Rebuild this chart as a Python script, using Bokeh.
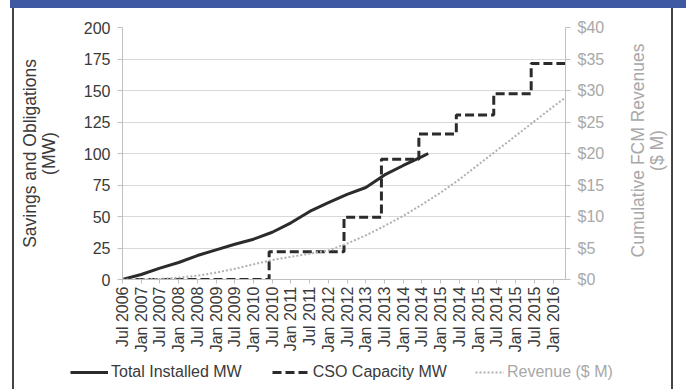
import math
from bokeh.plotting import figure
from bokeh.layouts import column, row
from bokeh.models import (Range1d, LinearAxis, FixedTicker, Legend, LegendItem,
                          PrintfTickFormatter)
from bokeh.core.properties import value
from bokeh.embed import file_html
from bokeh.resources import INLINE

# ---- data (months counted from Jul 2006) ----
tick_labels = ["Jul 2006", "Jan 2007", "Jul 2007", "Jan 2008", "Jul 2008", "Jan 2009",
               "Jul 2009", "Jan 2010", "Jul 2010", "Jan 2011", "Jul 2011", "Jan 2012",
               "Jul 2012", "Jan 2013", "Jul 2013", "Jan 2014", "Jul 2014", "Jan 2015",
               "Jul 2014", "Jan 2015", "Jul 2014", "Jan 2015", "Jul 2015", "Jan 2016"]

installed_months = [0, 6, 12, 18, 24, 30, 36, 42, 48, 54, 60, 66, 72, 78, 84, 90, 96, 98]
installed_mw = [0, 4, 9, 13.5, 19, 23.5, 28, 32, 37.5, 45, 54, 61, 67.5, 73, 83, 90.5, 97.5, 100]

cso_months = [0, 47, 71, 83, 95, 107, 119, 131, 142]
cso_mw = [0, 22, 49.5, 95.5, 115.5, 130.5, 147.5, 171.5, 171.5]

rev_months = [0, 6, 12, 18, 24, 30, 36, 42, 48, 54, 60, 66, 72, 78, 84, 90, 96,
              102, 108, 114, 120, 126, 132, 138, 142]
rev_musd = [0, 0, 0.1, 0.3, 0.6, 1.1, 1.7, 2.4, 3.1, 3.6, 4.1, 4.6, 5.7, 7.0, 8.5, 10.1, 11.9,
            13.8, 15.9, 18.2, 20.5, 22.8, 25.1, 27.4, 28.9]

left_ticks = [0, 25, 50, 75, 100, 125, 150, 175, 200]
right_ticks = [0, 5, 10, 15, 20, 25, 30, 35, 40]

left_title = "Savings and Obligations\n(MW)"
right_title = "Cumulative FCM Revenues\n($ M)"
series_names = ["Total Installed MW", "CSO Capacity MW", "Revenue ($ M)"]

FONT = "Liberation Sans"
DARK = "#3a3a3a"
LIGHT = "#a8a8a8"
LINE = "#2b2b2b"
REV = "#b0b0b0"
TICK_FS = "16px"
TITLE_FS = "17.5px"

# ---------------- main chart ----------------
p = figure(width=620, height=358, output_backend="svg", toolbar_location=None,
           x_range=Range1d(0, 142), y_range=Range1d(0, 200),
           min_border_left=122, min_border_right=55, min_border_top=27,
           min_border_bottom=79)
p.frame_align = False
p.outline_line_color = None
p.background_fill_color = "white"
p.border_fill_alpha = 0
p.xgrid.visible = False
p.ygrid.grid_line_color = "#d9d9d9"
p.ygrid.grid_line_width = 1

p.extra_y_ranges = {"rev": Range1d(0, 40)}

p.line(installed_months, installed_mw, line_color=LINE, line_width=3)
p.step(cso_months, cso_mw, mode="after", line_color=LINE, line_width=3, line_dash="9 4")
p.line(rev_months, rev_musd, y_range_name="rev", line_color=REV, line_width=2,
       line_dash="2 2")

# left axis
ya = p.yaxis[0]
ya.ticker = FixedTicker(ticks=left_ticks)
ya.axis_label = left_title
ya.axis_label_text_font = FONT
ya.axis_label_text_font_style = "normal"
ya.axis_label_text_font_size = TITLE_FS
ya.axis_label_text_line_height = 0.95
ya.axis_label_text_color = DARK
ya.axis_label_standoff = 22
ya.major_label_text_font = FONT
ya.major_label_text_font_size = TICK_FS
ya.major_label_text_color = DARK
ya.major_tick_out = 5
ya.major_tick_in = 0
ya.minor_tick_out = 0
ya.minor_tick_in = 0
ya.major_label_standoff = 7
ya.axis_line_color = "#bfbfbf"
ya.major_tick_line_color = "#bfbfbf"

# right axis (title drawn in the strip to the right)
ra = LinearAxis(y_range_name="rev", ticker=FixedTicker(ticks=right_ticks),
                formatter=PrintfTickFormatter(format="$%d"))
ra.major_label_text_font = FONT
ra.major_label_text_font_size = TICK_FS
ra.major_label_text_color = LIGHT
ra.major_tick_out = 5
ra.major_tick_in = 0
ra.minor_tick_out = 0
ra.minor_tick_in = 0
ra.major_label_standoff = 7
ra.axis_line_color = "#bfbfbf"
ra.major_tick_line_color = "#bfbfbf"
p.add_layout(ra, "right")

# x axis
xa = p.xaxis[0]
tick_months = [6 * i for i in range(len(tick_labels))]
xa.ticker = FixedTicker(ticks=tick_months)
xa.major_label_overrides = {m: lbl for m, lbl in zip(tick_months, tick_labels)}
xa.major_label_orientation = math.pi / 2
xa.major_label_text_font = FONT
xa.major_label_text_font_size = TICK_FS
xa.major_label_text_color = DARK
xa.major_tick_out = 4
xa.major_tick_in = 0
xa.minor_tick_out = 0
xa.minor_tick_in = 0
xa.major_label_standoff = 3
xa.axis_line_color = "#bfbfbf"
xa.major_tick_line_color = "#bfbfbf"

# ---------------- right title strip ----------------
tf = figure(width=66, height=358, output_backend="svg", toolbar_location=None,
            x_range=Range1d(0, 66), y_range=Range1d(0, 358),
            x_axis_type=None, y_axis_type=None, min_border=0)
tf.frame_align = False
tf.outline_line_color = None
tf.background_fill_alpha = 0
tf.border_fill_alpha = 0
tf.text(x=[27], y=[208], text=[right_title], angle=math.pi / 2,
        text_align="center", text_baseline="middle",
        text_font=value(FONT), text_font_size=TITLE_FS, text_color=LIGHT,
        text_line_height=0.95)

# ---------------- legend strip ----------------
lf = figure(width=686, height=31, output_backend="svg", toolbar_location=None,
            x_range=Range1d(-20, -10), y_range=Range1d(-20, -10),
            x_axis_type=None, y_axis_type=None, min_border=0)
lf.frame_align = False
lf.outline_line_color = None
lf.background_fill_alpha = 0
lf.border_fill_alpha = 0
# same series, drawn out of view: they only supply the legend samples
k1 = lf.line(installed_months, installed_mw, line_color=LINE, line_width=3)
k2 = lf.line(cso_months, cso_mw, line_color=LINE, line_width=3, line_dash="9 4")
k3 = lf.line(rev_months, rev_musd, line_color=REV, line_width=2, line_dash="2 2")

leg1 = Legend(items=[LegendItem(label=series_names[0], renderers=[k1]),
                     LegendItem(label=series_names[1], renderers=[k2])],
              orientation="horizontal", location=(70, 8))
leg2 = Legend(items=[LegendItem(label=series_names[2], renderers=[k3])],
              orientation="horizontal", location=(475, 8))
for lg, col, gw in ((leg1, DARK, 38), (leg2, LIGHT, 29)):
    lg.label_text_font = FONT
    lg.label_text_font_size = TICK_FS
    lg.label_text_color = col
    lg.glyph_width = gw
    lg.glyph_height = 18
    lg.label_height = 18
    lg.label_standoff = 3
    lg.spacing = 30
    lg.padding = 0
    lg.margin = 0
    lg.border_line_color = None
    lg.background_fill_alpha = 0
    lf.add_layout(lg, "center")

root = column(row(p, tf, spacing=0), lf, spacing=0, styles={
    "background-color": "white",
    "background-image": "linear-gradient(#3f5aa3, #3f5aa3), linear-gradient(#444, #444), linear-gradient(#444, #444)",
    "background-size": "676px 8px, 2px 381px, 2px 381px",
    "background-position": "10px 0px, 12px 8px, 671px 8px",
    "background-repeat": "no-repeat",
})

open("out.html", "w").write(file_html(root, INLINE))
